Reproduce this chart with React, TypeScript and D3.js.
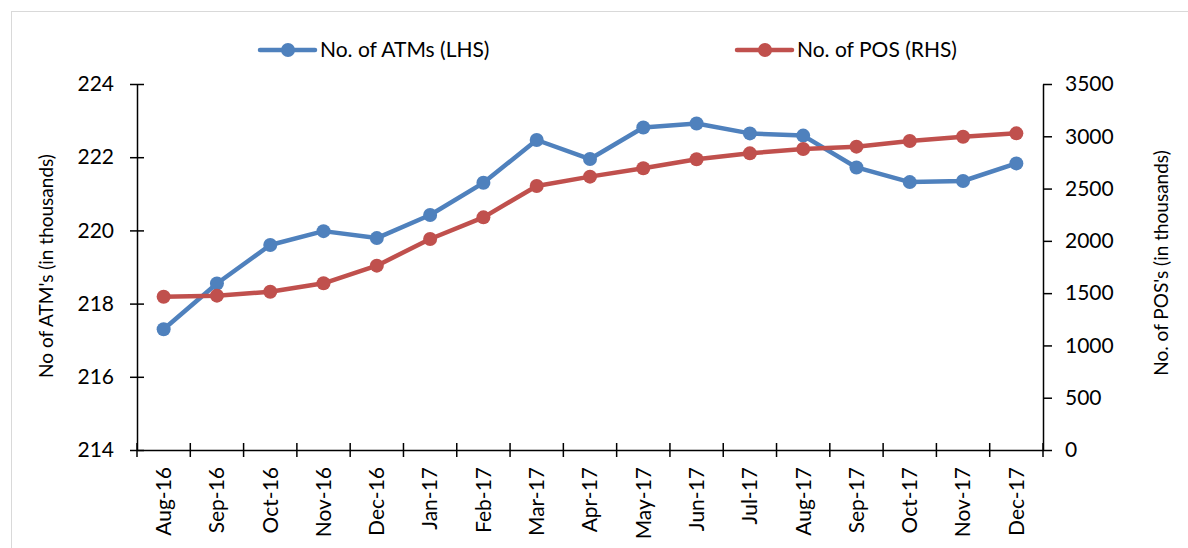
import React, { useEffect, useRef } from 'react';
import * as d3 from 'd3';

const months = ['Aug-16', 'Sep-16', 'Oct-16', 'Nov-16', 'Dec-16', 'Jan-17', 'Feb-17', 'Mar-17', 'Apr-17',
  'May-17', 'Jun-17', 'Jul-17', 'Aug-17', 'Sep-17', 'Oct-17', 'Nov-17', 'Dec-17'];
const atms = [217.30, 218.55, 219.60, 219.98, 219.79, 220.42, 221.30, 222.47, 221.95,
  222.81, 222.92, 222.65, 222.59, 221.72, 221.32, 221.35, 221.83];
const pos = [1466, 1476, 1514, 1594, 1763, 2018, 2225, 2525, 2614,
  2694, 2780, 2837, 2878, 2901, 2955, 2996, 3028];
const leftTicks = [214, 216, 218, 220, 222, 224];
const rightTicks = [0, 500, 1000, 1500, 2000, 2500, 3000, 3500];

const BLUE = '#4f81bd';
const RED = '#c0504d';
const FONT = 'Lato, "Open Sans", sans-serif';

function App() {
  const ref = useRef<SVGSVGElement>(null);

  useEffect(() => {
    const svg = d3.select(ref.current);
    svg.selectAll('*').remove();

    const left = 137, right = 1043, top = 84, bottom = 450;

    const x = d3.scaleBand().domain(months).range([left, right]);
    const yL = d3.scaleLinear().domain([214, 224]).range([bottom, top]);
    const yR = d3.scaleLinear().domain([0, 3500]).range([bottom, top]);

    // chart frame
    svg.append('rect')
      .attr('x', 11.5).attr('y', 11.5)
      .attr('width', 1190).attr('height', 560)
      .attr('fill', 'none').attr('stroke', '#d9d9d9');

    const cx = (d: string) => (x(d) as number) + x.bandwidth() / 2;

    // left axis
    const gL = svg.append('g').attr('transform', `translate(${left},0)`)
      .call(d3.axisLeft(yL).tickValues(leftTicks).tickSize(7).tickSizeOuter(0).tickPadding(16));
    gL.selectAll('.tick line').attr('x2', 7).attr('x1', -7);

    // right axis
    svg.append('g').attr('transform', `translate(${right},0)`)
      .call(d3.axisRight(yR).tickValues(rightTicks).tickFormat(d3.format('d')).tickSize(9).tickSizeOuter(0).tickPadding(13));

    // bottom axis
    const gB = svg.append('g').attr('transform', `translate(0,${bottom})`)
      .call(d3.axisBottom(x).tickSize(0).tickSizeOuter(0));
    gB.selectAll('.tick line').remove();
    gB.selectAll('.tick text')
      .attr('transform', 'rotate(-90)')
      .attr('text-anchor', 'end')
      .attr('x', -17).attr('y', 0).attr('dy', '0.35em');

    // category boundary ticks
    const bounds = months.map(m => x(m) as number).concat([right]);
    svg.append('g').selectAll('line').data(bounds).enter().append('line')
      .attr('x1', d => d).attr('x2', d => d)
      .attr('y1', bottom - 7).attr('y2', bottom + 7)
      .attr('stroke', '#000').attr('stroke-width', 1.5);

    svg.selectAll('.domain').attr('stroke', '#000').attr('stroke-width', 1.5);
    svg.selectAll('.tick line').attr('stroke', '#000').attr('stroke-width', 1.5);
    svg.selectAll('.tick text').attr('font-family', FONT).attr('font-size', 21).attr('fill', '#000');

    // series
    const series = [
      { values: atms, y: yL, color: BLUE },
      { values: pos, y: yR, color: RED },
    ];
    series.forEach(s => {
      const line = d3.line<number>()
        .x((_, i) => cx(months[i]))
        .y(d => s.y(d));
      svg.append('path').datum(s.values)
        .attr('d', line)
        .attr('fill', 'none')
        .attr('stroke', s.color)
        .attr('stroke-width', 4.5)
        .attr('stroke-linejoin', 'round');
      svg.append('g').selectAll('circle').data(s.values).enter().append('circle')
        .attr('cx', (_, i) => cx(months[i]))
        .attr('cy', d => s.y(d))
        .attr('r', 7)
        .attr('fill', s.color);
    });

    // axis titles
    svg.append('text')
      .attr('transform', `translate(53,${(top + bottom) / 2 - 1}) rotate(-90)`)
      .attr('text-anchor', 'middle')
      .attr('font-family', FONT).attr('font-size', 19)
      .text("No of ATM's (in thousands)");
    svg.append('text')
      .attr('transform', `translate(1168,${(top + bottom) / 2 - 4}) rotate(-90)`)
      .attr('text-anchor', 'middle')
      .attr('font-family', FONT).attr('font-size', 19)
      .text("No. of POS's (in thousands)");

    // legend
    const legend = [
      { label: 'No. of ATMs (LHS)', color: BLUE, x0: 260 },
      { label: 'No. of POS (RHS)', color: RED, x0: 737 },
    ];
    legend.forEach(l => {
      const g = svg.append('g').attr('transform', `translate(${l.x0},50)`);
      g.append('line').attr('x1', 0).attr('x2', 55).attr('y1', 0).attr('y2', 0)
        .attr('stroke', l.color).attr('stroke-width', 4.5).attr('stroke-linecap', 'round');
      g.append('circle').attr('cx', 28).attr('cy', 0).attr('r', 7).attr('fill', l.color);
      g.append('text').attr('x', 60).attr('y', 0).attr('dy', '0.35em')
        .attr('font-family', FONT).attr('font-size', 21)
        .text(l.label);
    });
  }, []);

  return <svg ref={ref} width={1188} height={548}
    style={{ display: 'block', position: 'absolute', left: 0, top: 0 }} />;
}

export default App;
